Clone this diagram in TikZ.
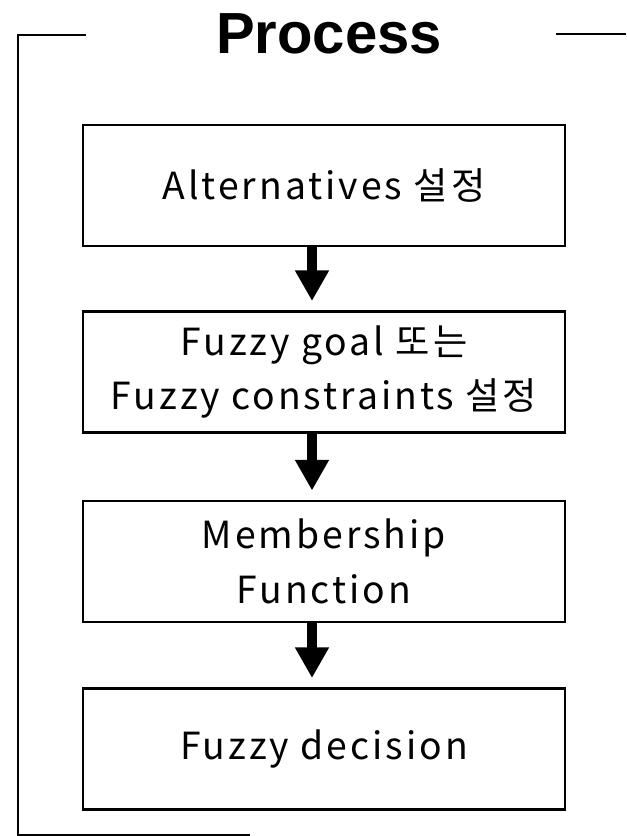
\documentclass[tikz,border=0pt]{standalone}
\usepackage{fontspec}
\setmainfont{Liberation Sans}
\newfontfamily\kofont[LetterSpace=8]{Noto Sans CJK KR}
\usetikzlibrary{arrows.meta}

\begin{document}
\begin{tikzpicture}
[x=0.75pt,y=-0.75pt,
stepbox/.style={draw,black,line width=1.7pt,minimum width=361.5pt,minimum height=90.75pt,align=center,inner sep=0pt,font=\kofont\fontsize{28}{41}\selectfont},
framebox/.style={black,line width=1.6pt},
thickarrow/.style={-{Triangle[width=24pt,length=23pt]},black,line width=7.5pt,shorten >=7pt}]

\useasboundingbox (0,0) rectangle (626,836);

% frame and title
\node[anchor=base,font=\bfseries\fontsize{43.5}{50}\selectfont](title) at (329,53){Process};
\draw[framebox] (86,35) -- (18,35) -- (18,835) -- (250,835);
\draw[framebox] (556,34) -- (626,34);

% steps
\node[stepbox](alt) at (324,185.5){Alternatives 설정};
\node[stepbox](goal) at (324,372){Fuzzy goal 또는\\Fuzzy constraints 설정};
\node[stepbox](member) at (324,561.5){Membership\\Function};
\node[stepbox](decision) at (324,749){Fuzzy decision};

% arrows
\draw[thickarrow] ([xshift=-9pt]alt.south) -- ([xshift=-9pt]goal.north);
\draw[thickarrow] ([xshift=-9pt]goal.south) -- ([xshift=-9pt]member.north);
\draw[thickarrow] ([xshift=-9pt]member.south) -- ([xshift=-9pt]decision.north);

\end{tikzpicture}
\end{document}
